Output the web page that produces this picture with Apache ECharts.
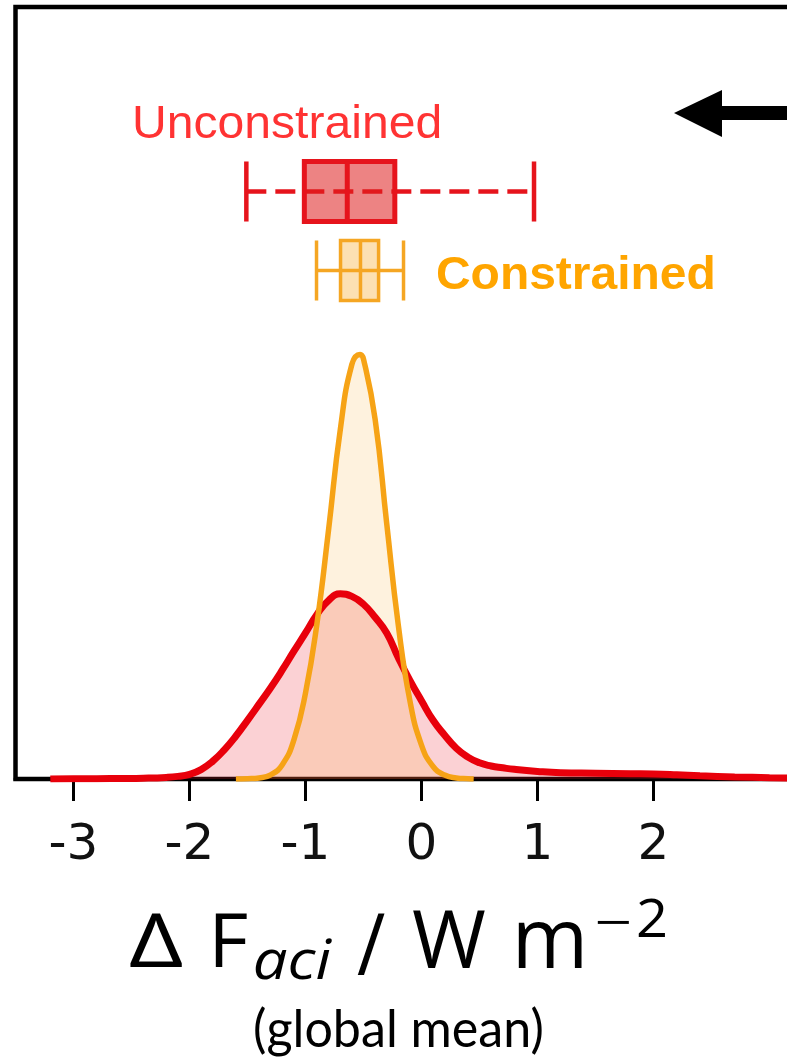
<!DOCTYPE html>
<html>
<head>
<meta charset="utf-8">
<script src="https://cdn.jsdelivr.net/npm/echarts@6/dist/echarts.min.js"></script>
<style>
  html, body { margin: 0; padding: 0; background: #ffffff; }
  #chart { width: 787px; height: 1058px; }
</style>
</head>
<body>
<div id="chart"></div>
<script>
// Kernel density of the unconstrained ensemble (x in W m^-2)
const unconstrainedX = [-3.2, -3.0, -2.8, -2.6, -2.4, -2.2, -2.1, -2.0, -1.9, -1.8, -1.7, -1.6, -1.5, -1.4, -1.3, -1.2, -1.1, -1.0, -0.9, -0.8, -0.7, -0.6, -0.5, -0.4, -0.3, -0.2, -0.1, 0.0, 0.1, 0.2, 0.3, 0.4, 0.5, 0.6, 0.7, 0.8, 1.0, 1.2, 1.5, 1.8, 2.0, 2.2, 2.4, 2.7, 3.0, 3.3, 3.5];
const unconstrainedDensity = [0.000, 0.001, 0.001, 0.002, 0.003, 0.006, 0.010, 0.018, 0.036, 0.068, 0.112, 0.165, 0.225, 0.287, 0.350, 0.418, 0.490, 0.560, 0.632, 0.685, 0.710, 0.700, 0.670, 0.620, 0.560, 0.465, 0.378, 0.300, 0.225, 0.168, 0.118, 0.084, 0.062, 0.050, 0.043, 0.037, 0.029, 0.024, 0.022, 0.020, 0.019, 0.016, 0.012, 0.008, 0.005, 0.003, 0.002];

// Kernel density of the constrained ensemble
const constrainedX = [-1.6, -1.5, -1.4, -1.3, -1.2, -1.1, -1.0, -0.9, -0.8, -0.7, -0.6, -0.53, -0.5, -0.4, -0.3, -0.2, -0.1, 0.0, 0.1, 0.2, 0.3, 0.4, 0.45];
const constrainedDensity = [0.000, 0.001, 0.004, 0.016, 0.055, 0.150, 0.330, 0.600, 0.960, 1.340, 1.590, 1.628, 1.610, 1.380, 0.980, 0.590, 0.300, 0.130, 0.048, 0.015, 0.004, 0.001, 0.000];

// Box summaries: [whisker low, Q1, median, Q3, whisker high]
const boxCategories = ['Unconstrained', 'Constrained'];
const unconstrainedBox = [-1.51, -1.01, -0.64, -0.23, 0.97];
const constrainedBox = [-0.905, -0.698, -0.526, -0.37, -0.155];

// Axis ticks
const xTicks = [-3, -2, -1, 0, 1, 2];

const RED = '#e8000b';
const ORANGE = '#f6a316';

const pairs = (xs, ys) => xs.map((x, i) => [x, ys[i]]);

const boxStyles = [
  { stroke: '#e6141c', fill: 'rgba(222,30,30,0.55)', width: 5, whiskerWidth: 4.5, dash: [20, 9] },
  { stroke: '#f5a623', fill: 'rgba(245,165,35,0.35)', width: 3.5, whiskerWidth: 3.5, dash: null }
];

function renderBox(params, api) {
  const cat = api.value(0);
  const lo = api.value(1), q1 = api.value(2), med = api.value(3), q3 = api.value(4), hi = api.value(5);
  const yc = api.coord([0, cat])[1];
  const band = api.size([0, 1])[1];
  const h = band * 0.76;
  const px = v => api.coord([v, cat])[0];
  const s = boxStyles[cat];
  const top = yc - h / 2, bot = yc + h / 2;
  return {
    type: 'group',
    children: [
      { type: 'line', shape: { x1: px(lo), y1: yc, x2: px(hi), y2: yc },
        style: { stroke: s.stroke, lineWidth: s.whiskerWidth, lineDash: s.dash } },
      { type: 'rect', shape: { x: px(q1), y: top, width: px(q3) - px(q1), height: h },
        style: { fill: s.fill, stroke: s.stroke, lineWidth: s.width } },
      { type: 'line', shape: { x1: px(med), y1: top, x2: px(med), y2: bot },
        style: { stroke: s.stroke, lineWidth: s.width } },
      { type: 'line', shape: { x1: px(lo), y1: top, x2: px(lo), y2: bot },
        style: { stroke: s.stroke, lineWidth: s.whiskerWidth } },
      { type: 'line', shape: { x1: px(hi), y1: top, x2: px(hi), y2: bot },
        style: { stroke: s.stroke, lineWidth: s.whiskerWidth } }
    ]
  };
}

// Text placement helpers based on the glyph ink box
const mctx = document.createElement('canvas').getContext('2d');
function metrics(text, font, baseline) {
  mctx.font = font;
  mctx.textBaseline = baseline;
  const m = mctx.measureText(text);
  return { l: -m.actualBoundingBoxLeft, r: m.actualBoundingBoxRight, a: m.actualBoundingBoxAscent, d: m.actualBoundingBoxDescent };
}
// stretch horizontally to [L, R], alphabetic baseline at B
function fitWidth(text, font, color, L, R, B) {
  const mm = metrics(text, font, 'middle');
  const ma = metrics(text, font, 'alphabetic');
  const sx = (R - L) / (mm.r - mm.l);
  const off = ma.a - mm.a;
  return { type: 'text', x: L - mm.l * sx, y: B - off, scaleX: sx, scaleY: 1,
    style: { text, font, fill: color, align: 'left', verticalAlign: 'middle' } };
}
// fit ink box to [L, T, R, B]
function fitBox(text, font, color, L, T, R, B) {
  const mm = metrics(text, font, 'middle');
  const sx = (R - L) / (mm.r - mm.l);
  const sy = (B - T) / (mm.a + mm.d);
  return { type: 'text', x: L - mm.l * sx, y: T + mm.a * sy, scaleX: sx, scaleY: sy,
    style: { text, font, fill: color, align: 'left', verticalAlign: 'middle' } };
}

const TITLE = '"Open Sans", "Noto Sans", sans-serif';
const LABEL = '"Liberation Sans", Arial, sans-serif';

const graphics = [
  fitWidth('Unconstrained', 'normal 47px ' + LABEL, '#ff3333', 135, 440, 138),
  fitWidth('Constrained', 'bold 47px ' + LABEL, '#ffa500', 437, 713, 289),
  // arrow
  { type: 'polygon', shape: { points: [[674, 113], [722, 90], [722, 106], [800, 106], [800, 120], [722, 120], [722, 137]] },
    style: { fill: '#000' } },
  // axis title
  fitBox('\u0394', 'normal 80px ' + TITLE, '#000', 130, 912, 182, 967),
  fitBox('F', 'normal 80px ' + TITLE, '#000', 215, 912, 247, 967),
  fitBox('aci', 'italic 56px ' + TITLE, '#000', 255, 938, 332, 980),
  fitBox('/', 'normal 80px ' + TITLE, '#000', 357, 912, 385, 975),
  fitBox('W', 'normal 80px ' + TITLE, '#000', 413, 910, 485, 968),
  fitBox('m', 'normal 80px ' + TITLE, '#000', 518, 922, 582, 968),
  fitBox('\u2212', 'normal 56px ' + TITLE, '#000', 597, 920, 630, 924),
  fitBox('2', 'normal 56px ' + TITLE, '#000', 638, 897, 665, 937),
  fitWidth('(global mean)', 'normal 52px "Lato", sans-serif', '#000', 255, 542, 1047)
];

const chart = echarts.init(document.getElementById('chart'), null, { renderer: 'canvas' });

// the plot frame runs past the right edge of the page
const PLOT_LEFT = 15.5;
const PLOT_WIDTH = 812;

chart.setOption({
  animation: false,
  backgroundColor: '#ffffff',
  grid: [
    { left: PLOT_LEFT, width: PLOT_WIDTH, top: 7, bottom: 279, outerBoundsMode: 'none', containLabel: false,
      show: true, borderColor: '#000', borderWidth: 4.5, backgroundColor: 'transparent' },
    { left: PLOT_LEFT, width: PLOT_WIDTH, top: 152, height: 158, outerBoundsMode: 'none', containLabel: false, show: false }
  ],
  xAxis: [
    {
      type: 'value', gridIndex: 0, min: -3.5, max: 3.5,
      axisLine: { show: true, onZero: false, lineStyle: { color: '#000', width: 4 } },
      axisTick: { show: true, customValues: xTicks, length: 22, lineStyle: { color: '#000', width: 3 } },
      axisLabel: { show: true, customValues: xTicks, fontFamily: 'DejaVu Sans', fontSize: 50, color: '#111', margin: 42 },
      splitLine: { show: false }
    },
    { type: 'value', gridIndex: 1, min: -3.5, max: 3.5, show: false }
  ],
  yAxis: [
    { type: 'value', gridIndex: 0, min: 0, max: 2.96, axisLine: { show: false }, axisTick: { show: false },
      axisLabel: { show: false }, splitLine: { show: false } },
    { type: 'category', gridIndex: 1, data: boxCategories, inverse: true, show: false }
  ],
  series: [
    { name: 'Unconstrained fill', type: 'line', data: pairs(unconstrainedX, unconstrainedDensity), smooth: 0.5,
      showSymbol: false, lineStyle: { width: 0 }, areaStyle: { color: 'rgba(235,40,50,0.3)' }, z: 1, silent: true },
    { name: 'Constrained fill', type: 'line', data: pairs(constrainedX, constrainedDensity), smooth: 0.5,
      showSymbol: false, lineStyle: { width: 0 }, areaStyle: { color: 'rgba(250,170,40,0.22)' }, z: 2, silent: true },
    { name: 'Unconstrained', type: 'line', data: pairs(unconstrainedX, unconstrainedDensity), smooth: 0.5,
      showSymbol: false, lineStyle: { color: RED, width: 7 }, z: 3 },
    { name: 'Constrained', type: 'line', data: pairs(constrainedX, constrainedDensity), smooth: 0.5,
      showSymbol: false, lineStyle: { color: ORANGE, width: 5.5 }, z: 4 },
    { name: 'Boxes', type: 'custom', xAxisIndex: 1, yAxisIndex: 1, renderItem: renderBox,
      encode: { x: [1, 2, 3, 4, 5], y: 0 },
      data: [[0].concat(unconstrainedBox), [1].concat(constrainedBox)], z: 5 }
  ],
  graphic: graphics
});
</script>
</body>
</html>
